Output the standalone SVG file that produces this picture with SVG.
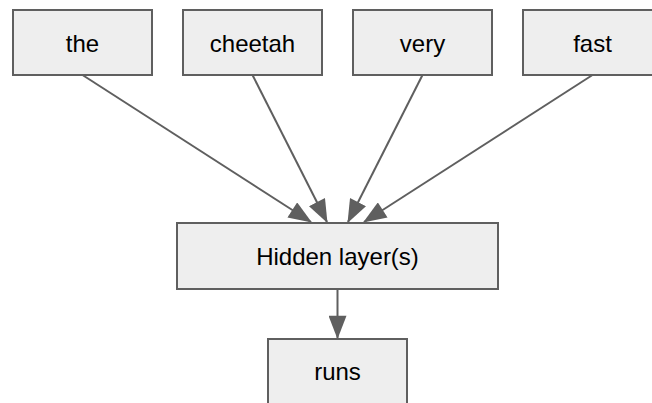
<svg xmlns="http://www.w3.org/2000/svg" width="652" height="403" viewBox="0 0 652 403">
<style>
.box{fill:#eeeeee;stroke:#5f5f5f;stroke-width:2}
.lbl{font-family:"Liberation Sans",Arial,sans-serif;font-size:24px;fill:#000;text-anchor:middle}
.edge{stroke:#5f5f5f;stroke-width:2;fill:none;marker-end:url(#ah)}
</style>
<defs>
<marker id="ah" markerUnits="userSpaceOnUse" markerWidth="24" markerHeight="18" viewBox="0 0 22 17" refX="21" refY="8.5" orient="auto">
<path d="M0,0 L22,8.5 L0,17 Z" fill="#5f5f5f"/>
</marker>
</defs>
<rect width="652" height="403" fill="#ffffff"/>
<g id="connectors">
<line class="edge" x1="82.5" y1="75" x2="311" y2="222"/>
<line class="edge" x1="252.5" y1="75" x2="327" y2="222"/>
<line class="edge" x1="422.5" y1="75" x2="348" y2="222"/>
<line class="edge" x1="592.5" y1="75" x2="364" y2="222"/>
<line class="edge" x1="337.5" y1="289" x2="337.5" y2="338"/>
</g>
<g id="node-the"><rect class="box" x="13" y="10" width="139" height="65"/><text class="lbl" x="82.5" y="52">the</text></g>
<g id="node-cheetah"><rect class="box" x="183" y="10" width="139" height="65"/><text class="lbl" x="252.5" y="52">cheetah</text></g>
<g id="node-very"><rect class="box" x="353" y="10" width="139" height="65"/><text class="lbl" x="422.5" y="52">very</text></g>
<g id="node-fast"><rect class="box" x="523" y="10" width="139" height="65"/><text class="lbl" x="592.5" y="52">fast</text></g>
<g id="node-hidden"><rect class="box" x="177" y="223" width="321" height="66"/><text class="lbl" x="337.5" y="265">Hidden layer(s)</text></g>
<g id="node-runs"><rect class="box" x="268" y="339" width="139" height="66"/><text class="lbl" x="337.5" y="380">runs</text></g>
</svg>
